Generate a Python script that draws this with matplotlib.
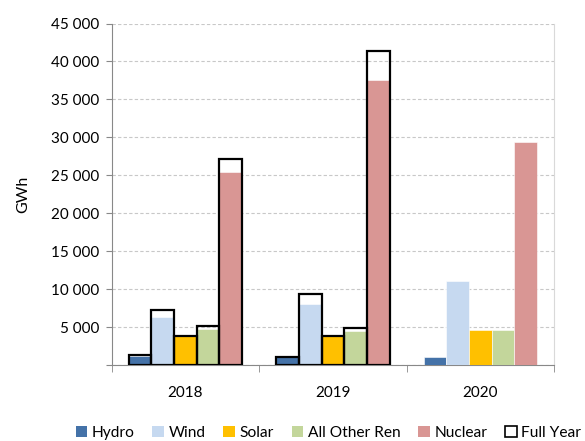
import matplotlib
matplotlib.use("Agg")
import matplotlib.pyplot as plt
import numpy as np
from matplotlib.patches import Patch

plt.rcParams['font.family'] = ['Lato', 'DejaVu Sans']

years = ["2018", "2019", "2020"]
series = ["Hydro", "Wind", "Solar", "All Other Ren", "Nuclear"]
colors = ["#4472a8", "#c6d9f0", "#ffc000", "#c3d69b", "#d99694"]
# year-to-date values (GWh)
hydro = [1250, 1050, 1100]
wind = [6300, 8050, 11100]
solar = [3800, 3800, 4650]
other = [4750, 4500, 4600]
nuclear = [25450, 37600, 29350]
# full year values (GWh); none for 2020
full_hydro = [1300, 1100, None]
full_wind = [7300, 9350, None]
full_solar = [3850, 3850, None]
full_other = [5200, 4950, None]
full_nuclear = [27100, 41350, None]

ytd = [hydro, wind, solar, other, nuclear]
full = [full_hydro, full_wind, full_solar, full_other, full_nuclear]

fig = plt.figure(figsize=(5.85, 4.41), dpi=100)
ax = fig.add_axes([0.191, 0.1717, 0.756, 0.775])

bw = 1 / 6.5
x = np.arange(len(years))
for i, (vals, fvals, c) in enumerate(zip(ytd, full, colors)):
    pos = x - 2.5 * bw + bw * (i + 0.5)
    ax.bar(pos, vals, width=bw, color=c, edgecolor='white', linewidth=0.4, zorder=3)
    fx = [p for p, v in zip(pos, fvals) if v is not None]
    fv = [v for v in fvals if v is not None]
    ax.bar(fx, fv, width=bw, facecolor='none', edgecolor='black', linewidth=1.6, zorder=4)

ax.set_xlim(-0.5, 2.5)
ax.set_ylim(0, 45000)
ax.set_yticks(np.arange(0, 45001, 5000))
ax.set_yticklabels([("{:,}".format(v).replace(",", " ") if v else "") for v in range(0, 45001, 5000)])
ax.yaxis.grid(True, linestyle=(0, (3, 2)), color='#c8c8c8', linewidth=0.8, zorder=0)
ax.set_xticks(x)
ax.set_xticklabels(years)
ax.set_xticks([-0.5, 0.5, 1.5, 2.5], minor=True)
ax.tick_params(axis='x', which='major', length=0, pad=15, labelsize=11)
ax.tick_params(axis='x', which='minor', length=5, color='#888888', direction='out')
ax.tick_params(axis='y', length=4, color='#888888', labelsize=11, pad=5)
for s in ['left', 'bottom']:
    ax.spines[s].set_color('#888888')
ax.spines['right'].set_color('#d9d9d9')
ax.spines['top'].set_visible(False)
ax.set_ylabel("GWh", fontsize=11.5, labelpad=15)

handles = [Patch(facecolor=c, edgecolor='none') for c in colors]
handles.append(Patch(facecolor='white', edgecolor='black', linewidth=1.2))
fig.legend(handles, series + ["Full Year"], loc='center', ncol=6,
           bbox_to_anchor=(0.5615, 0.019), frameon=False, fontsize=11.2,
           handlelength=0.75, handleheight=0.75, handletextpad=0.3, columnspacing=1.13,
           borderpad=0, borderaxespad=0)

fig.savefig("out.png", dpi=100)
